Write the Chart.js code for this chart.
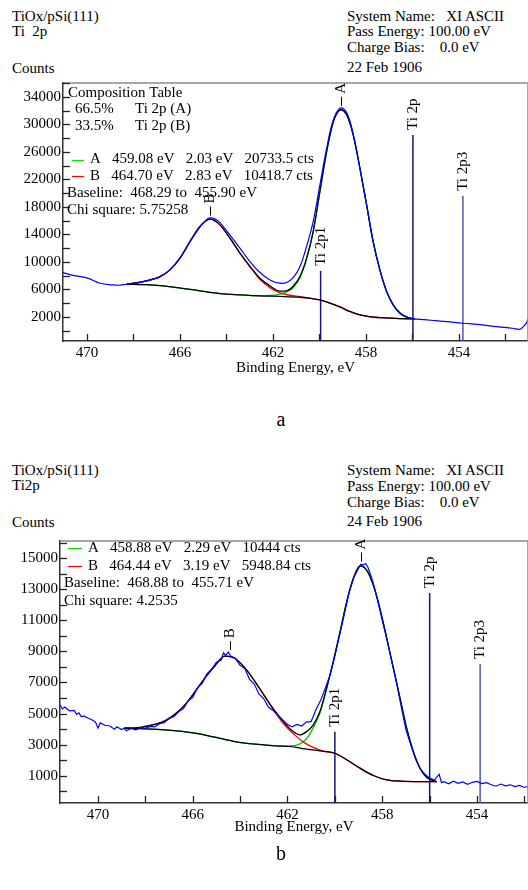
<!DOCTYPE html>
<html>
<head>
<meta charset="utf-8">
<script src="https://cdn.jsdelivr.net/npm/chart.js@4.4.0/dist/chart.umd.min.js"></script>
<style>
  html, body { margin: 0; padding: 0; background: #fff; }
  #page { position: relative; width: 528px; height: 890px; overflow: hidden; font-family: 'Liberation Serif', 'Times New Roman', serif; font-size: 15px; color: #000; }
  .t { position: absolute; white-space: pre; line-height: 15px; }
  .big { position: absolute; font-size: 20px; line-height: 20px; width: 40px; text-align: center; }
  canvas { position: absolute; left: 0; }
</style>
</head>
<body>
<div id="page">
  <div class="t" style="left:12px; top:9px">TiOx/pSi(111)</div>
  <div class="t" style="left:12px; top:24px">Ti  2p</div>
  <div class="t" style="left:12px; top:61px">Counts</div>
  <div class="t" style="left:347px; top:9px">System Name:   XI ASCII</div>
  <div class="t" style="left:347px; top:24px">Pass Energy: 100.00 eV</div>
  <div class="t" style="left:347px; top:40px">Charge Bias:    0.0 eV</div>
  <div class="t" style="left:347px; top:60px">22 Feb 1906</div>
  <canvas id="chartA" width="528" height="390" style="top:0px"></canvas>
  <div class="big" style="left:261px; top:409px">a</div>

  <div class="t" style="left:12px; top:463px">TiOx/pSi(111)</div>
  <div class="t" style="left:12px; top:478px">Ti2p</div>
  <div class="t" style="left:12px; top:515px">Counts</div>
  <div class="t" style="left:347px; top:463px">System Name:   XI ASCII</div>
  <div class="t" style="left:347px; top:479px">Pass Energy: 100.00 eV</div>
  <div class="t" style="left:347px; top:495px">Charge Bias:    0.0 eV</div>
  <div class="t" style="left:347px; top:514px">24 Feb 1906</div>
  <canvas id="chartB" width="528" height="395" style="top:455px"></canvas>
  <div class="big" style="left:261px; top:843px">b</div>
</div>
<script>
// ---- panel a : [binding energy (eV), counts] ----
const specA = [[471.03, 8450], [470.6, 8050], [470.0, 7670], [469.44, 6900], [468.9, 6650], [468.58, 6610],
  [468.28, 6750], [467.9, 6900], [467.58, 7140], [467.2, 7450], [466.86, 7860], [466.43, 8840], [466.0, 10540],
  [465.57, 12900], [465.14, 15100], [464.9, 16000], [464.71, 16400], [464.5, 16250], [464.28, 15700],
  [463.85, 13900], [463.42, 12000], [462.99, 10050], [462.56, 8450], [462.13, 7380], [461.7, 6900],
  [461.41, 7000], [461.13, 7700], [460.84, 9300], [460.55, 12300], [460.27, 15860], [459.98, 21200],
  [459.69, 26500], [459.4, 30650], [459.1, 32350], [458.83, 31700], [458.55, 28600], [458.26, 23600],
  [457.97, 18200], [457.69, 12900], [457.4, 8800], [457.11, 5700], [456.83, 3800], [456.54, 2600],
  [456.25, 2000], [455.97, 1710], [455.5, 1600], [455.0, 1450], [454.53, 1320], [453.83, 1080], [453.0, 850],
  [452.38, 590], [451.7, 350], [451.38, 210], [451.23, 590], [451.09, 1170], [451.03, 1700]];
const envA = [[468.29, 6760], [467.58, 7140], [466.86, 7860], [466.43, 8840], [466.0, 10540], [465.57, 12960],
  [465.14, 15140], [464.71, 16210], [464.28, 15380], [463.85, 13440], [463.42, 11270], [462.99, 9330],
  [462.56, 7630], [462.13, 6510], [461.7, 5750], [461.41, 5800], [461.13, 6450], [460.84, 7860], [460.55, 10540],
  [460.27, 14400], [459.98, 20230], [459.69, 26040], [459.4, 30400], [459.08, 32110], [458.83, 31380],
  [458.55, 28470], [458.26, 23630], [457.97, 18290], [457.69, 12950], [457.4, 8840], [457.11, 5680],
  [456.83, 3750], [456.54, 2540], [456.25, 1960], [455.9, 1720]];
const peakAA = [[468.29, 6760], [467.5, 6680], [466.86, 6550], [466.14, 6270], [465.14, 5780], [464.28, 5390],
  [463.42, 5200], [462.56, 5070], [462.13, 5120], [461.7, 5300], [461.41, 5650], [461.13, 6250], [460.84, 7700],
  [460.55, 10450], [460.27, 14350], [459.98, 20200], [459.69, 26040], [459.4, 30400], [459.08, 32110],
  [458.83, 31380], [458.55, 28470], [458.26, 23630], [457.97, 18290], [457.69, 12950], [457.4, 8840],
  [457.11, 5680], [456.83, 3750], [456.54, 2540], [456.25, 1960], [455.9, 1720]];
const peakAB = [[468.29, 6760], [467.58, 7140], [466.86, 7860], [466.43, 8840], [466.0, 10540], [465.57, 12960],
  [465.14, 15140], [464.71, 16210], [464.28, 15380], [463.85, 13440], [463.42, 11270], [462.99, 9330],
  [462.56, 7450], [462.13, 6250], [461.7, 5500], [461.27, 5150], [460.84, 4950], [460.4, 4720], [459.98, 4480],
  [459.55, 4000], [459.12, 3450], [458.7, 2800], [458.26, 2290], [457.8, 2000], [457.4, 1900], [456.54, 1760],
  [455.9, 1720]];
const baseA = [[468.29, 6760], [467.5, 6680], [466.86, 6550], [466.14, 6270], [465.14, 5780], [464.28, 5390],
  [463.42, 5200], [462.56, 5050], [461.7, 4980], [460.84, 4860], [460.4, 4700], [459.98, 4470], [459.55, 4000],
  [459.12, 3450], [458.7, 2800], [458.26, 2290], [457.8, 2000], [457.4, 1900], [456.54, 1760], [455.9, 1720]];

// ---- panel b ----
const specB = [[471.6, 5560], [471.5, 5300], [471.4, 5420], [471.2, 5180], [471.0, 5200], [470.9, 4950],
  [470.8, 5050], [470.7, 4800], [470.6, 4850], [470.4, 4700], [470.2, 4560], [470.1, 4450], [470.0, 4080],
  [469.9, 4400], [469.7, 4250], [469.5, 4200], [469.3, 4000], [469.2, 4150], [469.0, 3980], [468.9, 4060],
  [468.8, 3900], [468.6, 4050], [468.4, 3950], [468.2, 4100], [468.0, 4050], [467.8, 4180], [467.6, 4150],
  [467.4, 4350], [467.2, 4420], [467.0, 4700], [466.8, 4800], [466.6, 5120], [466.4, 5300], [466.2, 5800],
  [466.0, 6050], [465.8, 6650], [465.6, 6950], [465.4, 7550], [465.2, 7850], [465.0, 8300], [464.8, 8450],
  [464.7, 8900], [464.6, 8750], [464.5, 8950], [464.4, 8700], [464.2, 8550], [464.0, 8100], [463.8, 7900],
  [463.6, 7200], [463.4, 6900], [463.2, 6250], [463.0, 5950], [462.8, 5400], [462.6, 5200], [462.4, 4900],
  [462.2, 4600], [462.0, 4300], [461.8, 4150], [461.6, 4300], [461.4, 4200], [461.2, 4450], [461.0, 4500],
  [460.8, 5250], [460.6, 5850], [460.4, 6650], [460.2, 7500], [460.0, 8700], [459.8, 10050], [459.6, 11400],
  [459.4, 12800], [459.2, 13750], [459.0, 14350], [458.9, 14600], [458.8, 14550], [458.7, 14650],
  [458.6, 14400], [458.4, 13500], [458.2, 12300], [458.0, 11000], [457.8, 9750], [457.6, 8350], [457.4, 7000],
  [457.2, 5450], [457.0, 3950], [456.8, 3000], [456.6, 2100], [456.4, 1450], [456.2, 1100], [456.0, 850],
  [455.8, 720], [455.6, 1100], [455.5, 560], [455.4, 620], [455.2, 480], [455.0, 650], [454.8, 520],
  [454.6, 600], [454.4, 450], [454.2, 580], [454.0, 640], [453.8, 500], [453.6, 560], [453.4, 420],
  [453.2, 330], [453.0, 470], [452.8, 350], [452.6, 420], [452.4, 300], [452.2, 380], [452.0, 250], [451.85, 330]];
const envB = [[468.88, 4060], [468.4, 4080], [468.02, 4170], [467.6, 4300], [467.17, 4530], [466.75, 4950],
  [466.33, 5560], [465.9, 6410], [465.48, 7300], [465.06, 8080], [464.64, 8700], [464.22, 8560], [463.79, 7920],
  [463.37, 7060], [462.95, 6090], [462.53, 5170], [462.11, 4370], [461.8, 3900], [461.47, 3630], [461.19, 3850],
  [460.91, 4280], [460.63, 5130], [460.35, 6630], [460.07, 8340], [459.78, 10270], [459.5, 12200],
  [459.22, 13700], [458.94, 14500], [458.66, 14230], [458.38, 13270], [458.1, 11770], [457.81, 9840],
  [457.53, 7920], [457.25, 5990], [456.97, 4060], [456.69, 2560], [456.41, 1490], [456.12, 890], [455.71, 630]];
const peakBA = [[468.88, 4060], [468.0, 4020], [467.17, 3950], [465.9, 3740], [465.06, 3480], [464.22, 3200],
  [463.37, 3030], [462.53, 2940], [461.9, 2920], [461.47, 3050], [461.19, 3400], [460.91, 4100], [460.63, 5030],
  [460.35, 6580], [460.07, 8320], [459.78, 10270], [459.5, 12200], [459.22, 13700], [458.94, 14500],
  [458.66, 14230], [458.38, 13270], [458.1, 11770], [457.81, 9840], [457.53, 7920], [457.25, 5990],
  [456.97, 4060], [456.69, 2560], [456.41, 1490], [456.12, 890], [455.71, 630]];
const peakBB = [[468.88, 4060], [468.4, 4080], [468.02, 4170], [467.6, 4300], [467.17, 4530], [466.75, 4950],
  [466.33, 5560], [465.9, 6410], [465.48, 7300], [465.06, 8080], [464.64, 8700], [464.22, 8560], [463.79, 7920],
  [463.37, 7060], [462.95, 6090], [462.53, 5100], [462.11, 4250], [461.68, 3600], [461.26, 3100], [460.84, 2780],
  [460.42, 2560], [460.0, 2450], [459.5, 2030], [458.94, 1490], [458.38, 1020], [457.81, 740], [457.25, 660],
  [456.41, 630], [455.71, 630]];
const baseB = [[468.88, 4060], [468.0, 4020], [467.17, 3950], [465.9, 3740], [465.06, 3480], [464.22, 3200],
  [463.37, 3030], [462.53, 2930], [461.68, 2850], [461.47, 2780], [460.63, 2600], [460.0, 2450], [459.5, 2030],
  [458.94, 1490], [458.38, 1020], [457.81, 740], [457.25, 660], [456.41, 630], [455.71, 630]];

// reference lines and peak labels
const markerNames = ['Ti 2p1', 'Ti 2p', 'Ti 2p3'];
const markerColors = ['#14147a', '#14147a', '#5058a8'];
const markerEnergyA = [459.95, 455.98, 453.83];
const markerTopA = [8700, 28450, 19600];
const markerEnergyB = [460.0, 456.0, 453.87];
const markerTopB = [3830, 12750, 8190];
const peakNames = ['A', 'B'];
const peakEnergyA = [459.08, 464.70];
const peakTopA = [32400, 16450];
const peakEnergyB = [458.88, 464.44];
const peakTopB = [14650, 8950];

// text in the plot boxes
const compPctA = ['66.5%', '33.5%'];
const compNameA = ['Ti 2p (A)', 'Ti 2p (B)'];
const fitRowsA = ['A   459.08 eV   2.03 eV   20733.5 cts', 'B   464.70 eV   2.83 eV   10418.7 cts'];
const infoRowsA = ['Baseline:  468.29 to  455.90 eV', 'Chi square: 5.75258'];
const fitRowsB = ['A   458.88 eV   2.29 eV   10444 cts', 'B   464.44 eV   3.19 eV   5948.84 cts'];
const infoRowsB = ['Baseline:  468.88 to  455.71 eV', 'Chi square: 4.2535'];
const fitColors = ['#00dd00', '#ff0000'];

const FONT = '"Liberation Serif", "Times New Roman", serif';

function xy(arr) {
    return arr.map(p => ({ x: p[0], y: p[1] }));
}

function vText(ctx, text, x, y) {
    ctx.save();
    ctx.translate(x, y);
    ctx.rotate(-Math.PI / 2);
    ctx.textAlign = 'left';
    ctx.textBaseline = 'middle';
    ctx.fillText(text, 0, 0);
    ctx.restore();
}

// every multiple of the step inside the axis range
function stepTicks(step) {
    return function(scale) {
        const out = [];
        for (let v = Math.ceil(scale.min / step) * step; v <= scale.max + 1e-9; v += step) {
            out.push({ value: Math.round(v * 1000) / 1000 });
        }
        scale.ticks = out;
    };
}

const decor = {
    id: 'decor',
    afterDraw(chart, args, o) {
        const ctx = chart.ctx;
        const ca = chart.chartArea;
        const xs = chart.scales.x, ys = chart.scales.y;
        ctx.save();
        // top / right frame
        ctx.strokeStyle = '#8a8a8a';
        ctx.lineWidth = 1.5;
        ctx.beginPath();
        ctx.moveTo(ca.left, ca.top);
        ctx.lineTo(ca.right, ca.top);
        ctx.lineTo(ca.right, ca.bottom);
        ctx.stroke();
        // inward tick marks
        ctx.strokeStyle = '#222';
        ctx.lineWidth = 1.3;
        xs.ticks.forEach(t => {
            const px = Math.round(xs.getPixelForValue(t.value)) + 0.5;
            ctx.beginPath();
            ctx.moveTo(px, ca.bottom);
            ctx.lineTo(px, ca.bottom - 7);
            ctx.stroke();
        });
        ys.ticks.forEach(t => {
            const py = Math.round(ys.getPixelForValue(t.value)) + 0.5;
            ctx.beginPath();
            ctx.moveTo(ca.left, py);
            ctx.lineTo(ca.left + 7, py);
            ctx.stroke();
        });
        ctx.fillStyle = '#000';
        ctx.font = '15px ' + FONT;
        // reference line labels
        o.markerE.forEach((e, i) => {
            vText(ctx, markerNames[i], xs.getPixelForValue(e), ys.getPixelForValue(o.markerTop[i]) - 5);
        });
        // peak labels with a short tick
        o.peakE.forEach((e, i) => {
            const px = Math.round(xs.getPixelForValue(e)) + 0.5;
            const py = ys.getPixelForValue(o.peakTop[i]) - 2;
            ctx.strokeStyle = '#000';
            ctx.lineWidth = 1;
            ctx.beginPath();
            ctx.moveTo(px, py);
            ctx.lineTo(px, py - 9);
            ctx.stroke();
            vText(ctx, peakNames[i], px, py - 12);
        });
        // text block
        ctx.textAlign = 'left';
        ctx.textBaseline = 'middle';
        const rowY = r => ca.top + o.row0 + o.rowH * r;
        let r = 0;
        if (o.compPct) {
            ctx.fillText('Composition Table', ca.left + 5, rowY(0));
            o.compPct.forEach((p, i) => {
                ctx.fillText(p, ca.left + 12, rowY(1 + i));
                ctx.fillText(o.compName[i], ca.left + 72, rowY(1 + i));
            });
            r = 4;
        }
        o.fitRows.forEach((s, i) => {
            const yy = rowY(r + i);
            ctx.strokeStyle = fitColors[i];
            ctx.lineWidth = 1.2;
            ctx.beginPath();
            ctx.moveTo(ca.left + o.sample[0], Math.round(yy) + 0.5);
            ctx.lineTo(ca.left + o.sample[1], Math.round(yy) + 0.5);
            ctx.stroke();
            ctx.fillText(s, ca.left + o.sample[2], yy);
        });
        o.infoRows.forEach((s, i) => {
            ctx.fillText(s, ca.left + 4, rowY(r + 2 + i));
        });
        ctx.restore();
    }
};

function makeChart(id, p) {
    const lw = 1.3;
    const curve = (data, color) => ({
        data: xy(data), borderColor: color, borderWidth: lw, showLine: true, pointRadius: 0,
        tension: 0.4, cubicInterpolationMode: 'monotone', fill: false
    });
    const datasets = [
        Object.assign(curve(p.spec, '#0000ff'), { borderWidth: 1.2, tension: p.specTension, cubicInterpolationMode: 'default' }),
        curve(p.base, '#000000'),
        curve(p.env, '#000000'),
        curve(p.peakB, '#ff0000'),
        curve(p.peakA, '#00cc00')
    ];
    p.markerE.forEach((e, i) => {
        datasets.push({
            data: [{ x: e, y: p.yMin }, { x: e, y: p.markerTop[i] }],
            borderColor: markerColors[i], borderWidth: 1.5, showLine: true, pointRadius: 0, tension: 0
        });
    });
    return new Chart(document.getElementById(id), {
        type: 'scatter',
        data: { datasets: datasets },
        plugins: [decor],
        options: {
            responsive: false,
            animation: false,
            devicePixelRatio: 1,
            layout: { padding: { top: p.padTop, left: 0, right: 0, bottom: 0 } },
            plugins: {
                legend: { display: false },
                tooltip: { enabled: false },
                decor: p.decor
            },
            scales: {
                x: {
                    type: 'linear',
                    reverse: true,
                    min: p.xMin,
                    max: p.xMax,
                    afterBuildTicks: stepTicks(2),
                    afterFit: s => { s.height = p.xHeight; },
                    grid: { drawOnChartArea: false, drawTicks: false },
                    border: { color: '#333', width: 1.5 },
                    ticks: {
                        autoSkip: false, maxRotation: 0, padding: 3,
                        color: '#000', font: { family: FONT, size: 15 },
                        callback: v => (Math.round(v) % 4 === 2 ? String(v) : '')
                    },
                    title: {
                        display: true, text: 'Binding Energy, eV', color: '#000',
                        font: { family: FONT, size: 15 }, padding: { top: 0, bottom: p.titlePad }
                    }
                },
                y: {
                    min: p.yMin,
                    max: p.yMax,
                    afterBuildTicks: stepTicks(p.yStep),
                    afterFit: s => { s.width = p.yWidth; },
                    grid: { drawOnChartArea: false, drawTicks: false },
                    border: { color: '#333', width: 1.5 },
                    ticks: {
                        autoSkip: false, padding: 2,
                        color: '#000', font: { family: FONT, size: 15 },
                        callback: v => (v > 0 && (v - p.yFirst) % (2 * p.yStep) === 0 ? String(v) : '')
                    }
                }
            }
        }
    });
}

makeChart('chartA', {
    spec: specA, env: envA, peakA: peakAA, peakB: peakAB, base: baseA, specTension: 0.4,
    xMin: 451.03, xMax: 471.03, yMin: -1500, yMax: 36000, yStep: 2000, yFirst: 2000,
    padTop: 83, xHeight: 49, yWidth: 63, titlePad: 13,
    markerE: markerEnergyA, markerTop: markerTopA,
    decor: {
        markerE: markerEnergyA, markerTop: markerTopA, peakE: peakEnergyA, peakTop: peakTopA,
        compPct: compPctA, compName: compNameA, fitRows: fitRowsA, infoRows: infoRowsA,
        row0: 9.7, rowH: 16.7, sample: [9, 21, 27]
    }
});

makeChart('chartB', {
    spec: specB, env: envB, peakA: peakBA, peakB: peakBB, base: baseB, specTension: 0,
    xMin: 451.85, xMax: 471.6, yMin: -750, yMax: 16100, yStep: 1000, yFirst: 1000,
    padTop: 86, xHeight: 47, yWidth: 60, titlePad: 14,
    markerE: markerEnergyB, markerTop: markerTopB,
    decor: {
        markerE: markerEnergyB, markerTop: markerTopB, peakE: peakEnergyB, peakTop: peakTopB,
        compPct: null, fitRows: fitRowsB, infoRows: infoRowsB,
        row0: 7, rowH: 17.7, sample: [8, 22, 28]
    }
});
</script>
</body>
</html>
